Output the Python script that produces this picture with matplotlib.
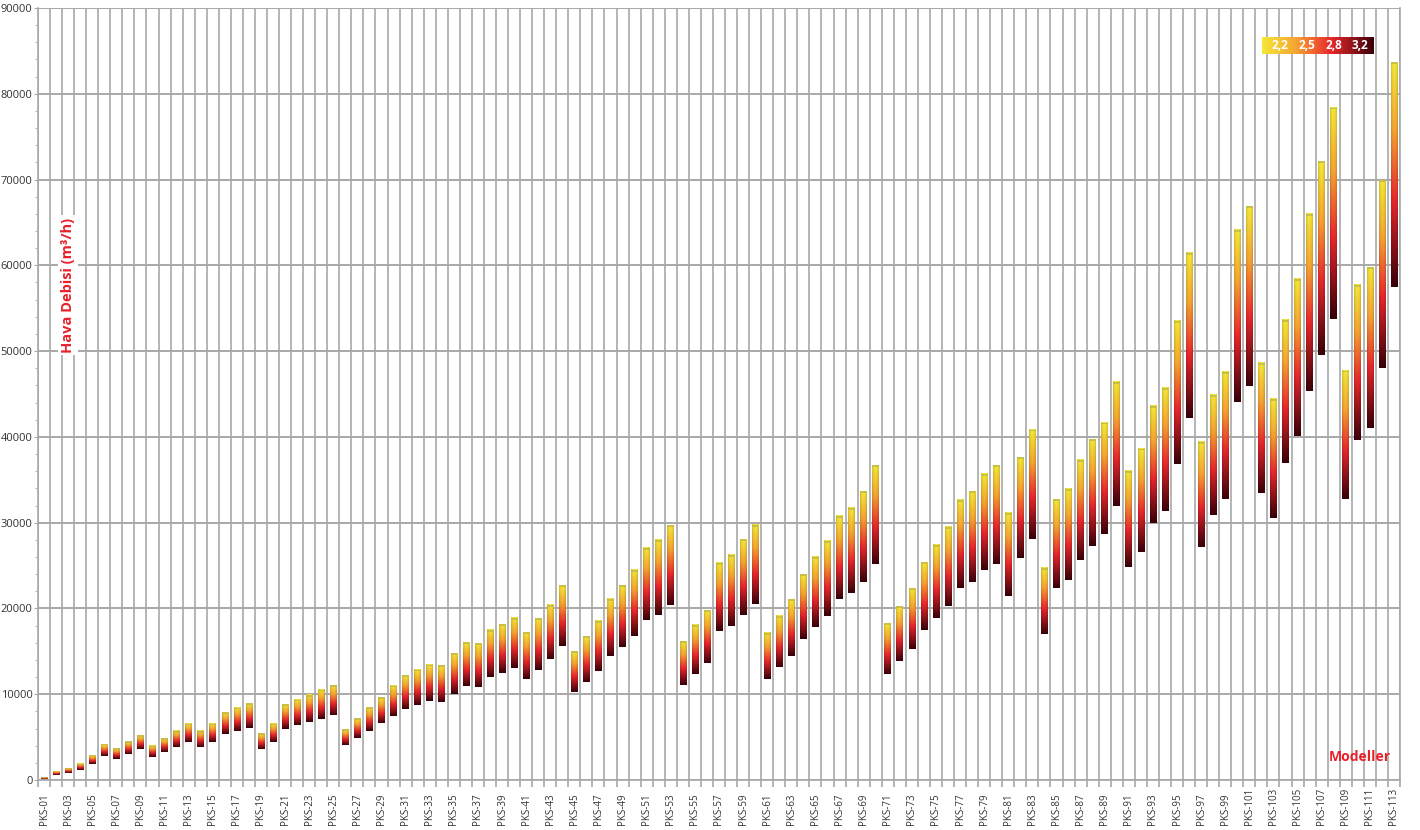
import numpy as np
import matplotlib
matplotlib.use("Agg")
import matplotlib.pyplot as plt
from matplotlib.colors import LinearSegmentedColormap
from matplotlib.transforms import blended_transform_factory

plt.rcParams['font.family'] = ['Open Sans', 'DejaVu Sans']

categories = [f"PKS-{i:02d}" for i in range(1, 114)]

highs = [300, 950, 1400, 1870, 2920, 4200, 3700, 4510, 5250, 4000,
         4900, 5720, 6580, 5720, 6580, 7900, 8440, 8950, 5450, 6580,
         8830, 9380, 9920, 10540, 11090, 5930, 7240, 8480, 9690, 11010,
         12260, 12880, 13460, 13420, 14750, 16110, 15990, 17510, 18210, 18910,
         17280, 18830, 20430, 22760, 15060, 16810, 18560, 21130, 22760, 24510,
         27080, 27940, 29670, 16150, 18020, 19770, 25290, 26230, 28050, 29770,
         17160, 19140, 21050, 23970, 25950, 27820, 30780, 31710, 33660, 36730,
         18250, 20230, 22330, 25370, 27430, 29460, 32610, 33660, 35640, 36730,
         31140, 37640, 40860, 24750, 32780, 33940, 37320, 39700, 41670, 46410,
         36060, 38640, 43640, 45660, 53540, 61460, 39440, 44900, 47580, 64140,
         66870, 48640, 44440, 53640, 58380, 66010, 72170, 78400, 47730, 57730,
         59750, 69950, 83700]

lows = [120, 600, 860, 1170, 1900, 2840, 2450, 3040, 3620, 2680,
        3270, 3850, 4440, 3850, 4440, 5370, 5720, 6110, 3620, 4440,
        5950, 6420, 6770, 7120, 7610, 4100, 4920, 5760, 6690, 7510,
        8330, 8750, 9260, 9140, 10080, 11010, 10890, 11950, 12530, 13000,
        11830, 12880, 14090, 15680, 10310, 11480, 12650, 14400, 15560, 16730,
        18600, 19180, 20370, 11030, 12300, 13620, 17350, 17900, 19220, 20510,
        11750, 13150, 14440, 16420, 17780, 19070, 21050, 21790, 23070, 25210,
        12410, 13850, 15250, 17470, 18830, 20230, 22330, 23070, 24440, 25210,
        21430, 25870, 28130, 17020, 22420, 23280, 25660, 27320, 28690, 31920,
        24800, 26570, 29950, 31310, 36820, 42170, 27170, 30860, 32730, 44040,
        45910, 33430, 30510, 36920, 40050, 45300, 49600, 53790, 32780, 39650,
        41010, 48080, 57520]

legend_labels = ["2,2", "2,5", "2,8", "3,2"]
y_label = "Hava Debisi (m³/h)"
corner_label = "Modeller"

cmap = LinearSegmentedColormap.from_list(
    "pks", [(0.0, "#f4e838"), (0.3, "#f6a532"), (0.62, "#e8272c"), (1.0, "#3a0008")])

W, H = 1420, 830
fig = plt.figure(figsize=(W / 100, H / 100), dpi=100)
ax_bottom_px = 780
ax_top_px = 8
ax = fig.add_axes([38 / W, (H - ax_bottom_px) / H, (1400 - 38) / W,
                   (ax_bottom_px - ax_top_px) / H])

n = len(categories)
x = np.arange(n)
bw = 0.55

rows = 200
cols = 12
grad = cmap(np.linspace(0, 1, rows))[:, :3]
shade = 0.80 + 0.20 * np.sin(np.pi * (np.arange(cols) + 0.5) / cols) ** 0.6
img = grad[:, None, :] * shade[None, :, None]

for xi, lo, hi in zip(x, lows, highs):
    ax.imshow(img, extent=[xi - bw / 2, xi + bw / 2, lo, hi],
              aspect='auto', interpolation='bilinear', zorder=3)
    cap = min(220, (hi - lo) * 0.12)
    ax.add_patch(plt.Rectangle((xi - bw / 2, hi - cap), bw, cap,
                               facecolor="#bdb64a", edgecolor='none',
                               alpha=0.75, zorder=4))

ax.set_xlim(-0.5, n - 0.5)
ax.set_ylim(0, 90000)

# x grid at category boundaries
ax.set_xticks(np.arange(-0.5, n, 1), minor=True)
ax.set_xticks(x[::2])
ax.set_xticklabels([])
ax.tick_params(axis='x', which='major', length=0)
ax.tick_params(axis='x', which='minor', length=5, color="#a8a8a8", width=1.2)
ax.grid(axis='x', which='minor', color="#a8a8a8", linewidth=1.2, zorder=0)

# category labels, bottom-aligned (text starts at the same baseline)
ax_h_px = ax_bottom_px - ax_top_px
y_anchor = -(825 - ax_bottom_px) / ax_h_px
trans = blended_transform_factory(ax.transData, ax.transAxes)
for xi in x[::2]:
    ax.text(xi, y_anchor, categories[xi], rotation=90, rotation_mode='anchor',
            ha='left', va='center', fontsize=7, color="#333333",
            transform=trans, clip_on=False)

ax.set_yticks(np.arange(0, 90001, 10000))
ax.set_yticks(np.arange(0, 90001, 2000), minor=True)
ax.set_yticklabels([str(v) for v in range(0, 90001, 10000)], fontsize=8, color="#333333")
ax.tick_params(axis='y', which='major', length=3, color="#a8a8a8", pad=1)
ax.tick_params(axis='y', which='minor', length=2, color="#a8a8a8")
ax.grid(axis='y', which='major', color="#a8a8a8", linewidth=1.4, zorder=0)
ax.set_axisbelow(True)

for side in ['left', 'bottom', 'right']:
    ax.spines[side].set_color("#a8a8a8")
    ax.spines[side].set_linewidth(1.2)
ax.spines['top'].set_visible(False)

fig.text(68 / W, (H - 285) / H, y_label, rotation=90, color="#e8202a",
         fontsize=10.5, fontweight='bold', ha='center', va='center',
         bbox=dict(facecolor='white', edgecolor='none', pad=2), zorder=10)

fig.text(1360 / W, (H - 757) / H, corner_label, color="#e8202a",
         fontsize=10, fontweight='bold', ha='center', va='center', zorder=10)

lax = fig.add_axes([1262 / W, (H - 54) / H, 112 / W, 17 / H])
lgrad = cmap(np.linspace(0, 1, 256))[None, :, :3]
lax.imshow(lgrad, aspect='auto', extent=[0, 1, 0, 1])
lax.set_axis_off()
for lbl, px in zip(legend_labels, [1280, 1307, 1334, 1360]):
    lax.text((px - 1262) / 112, 0.5, lbl, color='white', fontsize=8.5,
             fontweight='bold', ha='center', va='center')

fig.savefig("out.png", dpi=100)
